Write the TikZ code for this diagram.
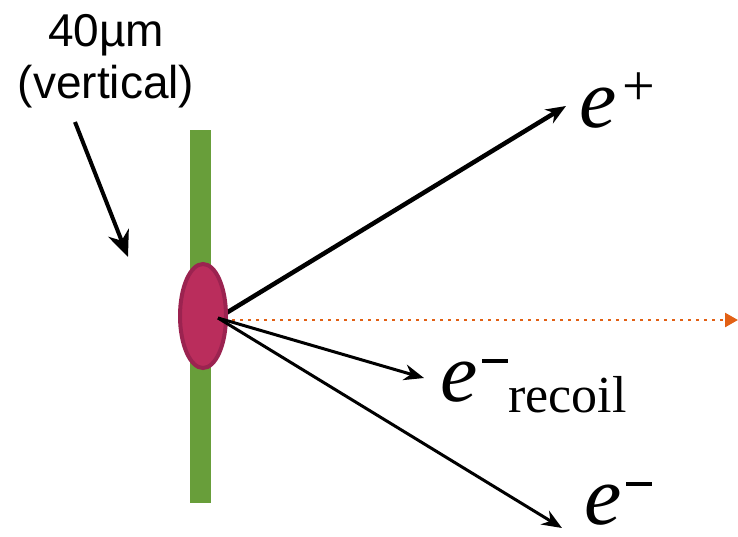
\documentclass[tikz,border=0pt]{standalone}
\usepackage{fontspec}
\setmainfont{Liberation Sans}
\newfontfamily\partfont{Liberation Serif}
\usetikzlibrary{arrows.meta,shapes.geometric}

\definecolor{foilgreen}{RGB}{104,158,58}
\definecolor{spotred}{RGB}{186,45,92}
\definecolor{spotedge}{RGB}{155,35,80}
\definecolor{beamorange}{RGB}{226,96,20}

\newcommand{\eletter}{{\partfont\itshape\fontsize{84}{84}\selectfont e}}
\newcommand{\eplus}{\hspace{6pt}\raisebox{22pt}{\partfont\fontsize{58}{58}\selectfont +}}
\newcommand{\eminus}{\hspace{5pt}\raisebox{38pt}{\rule{26pt}{4.5pt}}}

\begin{document}
\begin{tikzpicture}[x=1pt,y=-1pt,
    track/.style={draw=black, line width=3pt, -{Stealth[length=20pt,width=16pt]}},
    spot/.style={ellipse, fill=spotred, draw=spotedge, line width=4pt,
        minimum width=46pt, minimum height=104pt, inner sep=0pt},
    particle/.style={anchor=base west, inner sep=0pt}]
    \useasboundingbox (0,0) rectangle (738,536);

    % Foil
    \fill[foilgreen] (190,130) rectangle (211,503);
    \coordinate (ip) at (218,318);

    % Positron (runs behind the spot)
    \coordinate (postip) at (566,106);
    \draw[track, line width=4.5pt] (ip) -- (postip);

    % Laser spot
    \node[spot] (spot) at (203,316) {};

    % Beam axis
    \coordinate (beamstart) at (232,320);
    \coordinate (beamend) at (738,320);
    \draw[beamorange, line width=2.5pt, dash pattern=on 2.5pt off 5.5pt,
        -{Triangle[length=13pt,width=14pt]}] (beamstart) -- (beamend);

    % Electrons
    \coordinate (rectip) at (424,378);
    \coordinate (eletip) at (562,528);
    \draw[track] (ip) -- (rectip);
    \draw[track] (ip) -- (eletip);

    % Labels
    \node[particle] (pos) at (579,127) {\eletter\eplus};
    \node[particle] (rec) at (440,401) {\eletter\eminus\raisebox{-11pt}{\partfont\fontsize{52}{52}\selectfont recoil}};
    \node[particle] (ele) at (584,524) {\eletter\eminus};

    % Foil size
    \node[align=center, font=\fontsize{46}{52}\selectfont] (size) at (106,61) {40µm\\(vertical)};
    \coordinate (sizetail) at (75,122);
    \coordinate (sizetip) at (128,257);
    \draw[line width=4pt, -{Stealth[length=26pt,width=22pt]}] (sizetail) -- (sizetip);
\end{tikzpicture}
\end{document}
